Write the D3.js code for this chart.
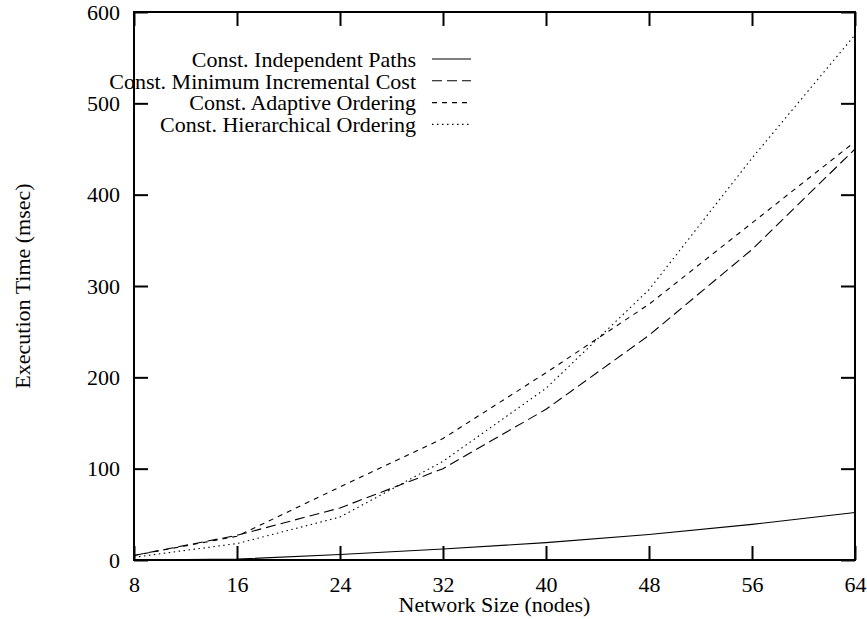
<!DOCTYPE html>
<html>
<head>
<meta charset="utf-8">
<script src="https://cdn.jsdelivr.net/npm/d3@7"></script>
<style>
  body { margin: 0; background: #fff; }
  svg text { font-family: "Liberation Serif", "DejaVu Serif", serif; fill: #000; }
</style>
</head>
<body>
<svg id="chart" width="867" height="619"></svg>
<script>
// Network sizes (x) and execution times (msec) per strategy
var nodes = [8, 16, 24, 32, 40, 48, 56, 64];
var independentPaths = [0, 1, 6, 12, 19, 28, 39, 52];
var minIncrementalCost = [5, 27, 57, 100, 165, 246, 340, 450];
var adaptiveOrdering = [5, 26, 80, 133, 205, 280, 369, 458];
var hierarchicalOrdering = [3, 18, 47, 108, 188, 296, 440, 575];

var seriesNames = [
  "Const. Independent Paths",
  "Const. Minimum Incremental Cost",
  "Const. Adaptive Ordering",
  "Const. Hierarchical Ordering"
];
var yTicks = [0, 100, 200, 300, 400, 500, 600];

var series = [independentPaths, minIncrementalCost, adaptiveOrdering, hierarchicalOrdering];
var dashes = [null, "10,5", "5,5", "1.5,3.5"];

var svg = d3.select("#chart");
// plot box (note: "top" is taken by window.top, so prefix these)
var pLeft = 134, pRight = 855, pTop = 12, pBottom = 560;
var fs = 22;

var x = d3.scaleLinear().domain([8, 64]).range([pLeft, pRight]);
var y = d3.scaleLinear().domain([0, 600]).range([pBottom, pTop]);

// axes with inward ticks
var xAxis = svg.append("g")
  .attr("transform", "translate(0," + pBottom + ")")
  .call(d3.axisBottom(x).tickValues(nodes).tickSizeInner(-14).tickSizeOuter(0).tickPadding(16));
var yAxis = svg.append("g")
  .attr("transform", "translate(" + pLeft + ",0)")
  .call(d3.axisLeft(y).tickValues(yTicks).tickSizeInner(-14).tickSizeOuter(0).tickPadding(14));
// mirror ticks on top and right
var xTop = svg.append("g")
  .attr("transform", "translate(0," + pTop + ")")
  .call(d3.axisTop(x).tickValues(nodes).tickSizeInner(-14).tickSizeOuter(0).tickFormat(""));
var yRight = svg.append("g")
  .attr("transform", "translate(" + pRight + ",0)")
  .call(d3.axisRight(y).tickValues(yTicks).tickSizeInner(-14).tickSizeOuter(0).tickFormat(""));

[xAxis, yAxis, xTop, yRight].forEach(function (a) {
  a.select(".domain").remove();
  a.selectAll(".tick line").attr("stroke", "#000").attr("stroke-width", 2);
  a.selectAll("text").style("font-size", fs + "px").style("font-family", "Liberation Serif, serif");
});

// frame
svg.append("rect")
  .attr("x", pLeft).attr("y", pTop)
  .attr("width", pRight - pLeft).attr("height", pBottom - pTop)
  .attr("fill", "none").attr("stroke", "#000").attr("stroke-width", 2);

// data lines
var line = d3.line()
  .x(function (d, i) { return x(nodes[i]); })
  .y(function (d) { return y(d); });

series.forEach(function (s, i) {
  svg.append("path")
    .datum(s)
    .attr("d", line)
    .attr("fill", "none")
    .attr("stroke", "#000")
    .attr("stroke-width", 1.1)
    .attr("stroke-dasharray", dashes[i]);
});

// legend
var legend = svg.append("g");
seriesNames.forEach(function (name, i) {
  var ly = 59 + i * 21.8;
  legend.append("text")
    .attr("x", 416).attr("y", ly)
    .attr("dy", "0.35em")
    .attr("text-anchor", "end")
    .style("font-size", fs + "px")
    .text(name);
  legend.append("line")
    .attr("x1", 432).attr("x2", 471)
    .attr("y1", ly).attr("y2", ly)
    .attr("stroke", "#000").attr("stroke-width", 1.1)
    .attr("stroke-dasharray", dashes[i]);
});

// axis titles
svg.append("text")
  .attr("x", (pLeft + pRight) / 2).attr("y", 604)
  .attr("dy", "0.35em")
  .attr("text-anchor", "middle")
  .style("font-size", fs + "px")
  .text("Network Size (nodes)");

svg.append("text")
  .attr("transform", "translate(22," + ((pTop + pBottom) / 2) + ") rotate(-90)")
  .attr("dy", "0.35em")
  .attr("text-anchor", "middle")
  .style("font-size", fs + "px")
  .text("Execution Time (msec)");
</script>
</body>
</html>
